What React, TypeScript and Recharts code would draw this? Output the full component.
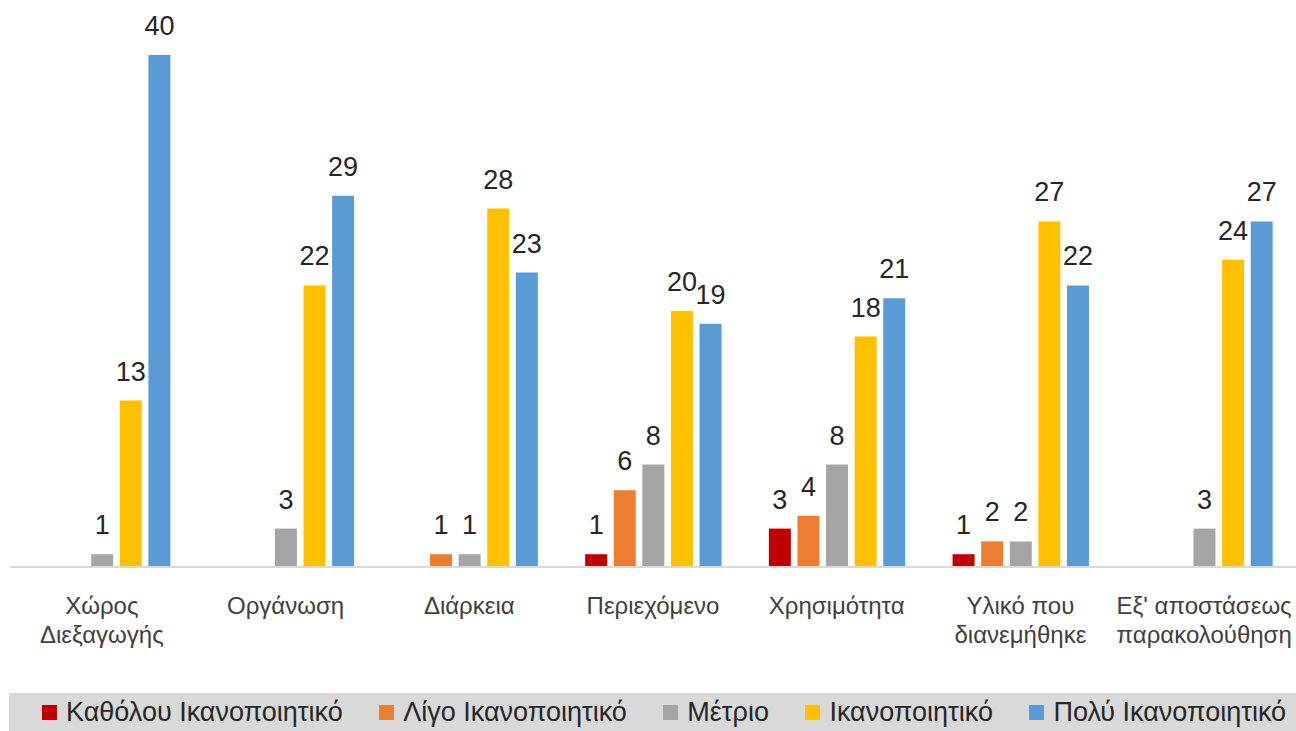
import React from "react";
import { BarChart, Bar, XAxis, YAxis, LabelList, Legend } from "recharts";

const categories = [
  "Χώρος Διεξαγωγής",
  "Οργάνωση",
  "Διάρκεια",
  "Περιεχόμενο",
  "Χρησιμότητα",
  "Υλικό που διανεμήθηκε",
  "Εξ' αποστάσεως παρακολούθηση",
];
const categoryLines = [
  ["Χώρος", "Διεξαγωγής"],
  ["Οργάνωση"],
  ["Διάρκεια"],
  ["Περιεχόμενο"],
  ["Χρησιμότητα"],
  ["Υλικό που", "διανεμήθηκε"],
  ["Εξ' αποστάσεως", "παρακολούθηση"],
];
const seriesNames = [
  "Καθόλου Ικανοποιητικό",
  "Λίγο Ικανοποιητικό",
  "Μέτριο",
  "Ικανοποιητικό",
  "Πολύ Ικανοποιητικό",
];
const katholou = [0, 0, 0, 1, 3, 1, 0];
const ligo = [0, 0, 1, 6, 4, 2, 0];
const metrio = [1, 3, 1, 8, 8, 2, 3];
const ikano = [13, 22, 28, 20, 18, 27, 24];
const poly = [40, 29, 23, 19, 21, 22, 27];
const seriesColors = ["#C00000", "#ED7D31", "#A5A5A5", "#FFC000", "#5B9BD5"];
const yDomain = [0, 40];

const seriesValues = [katholou, ligo, metrio, ikano, poly];
const data = categories.map((c, i) => {
  const row: Record<string, any> = { name: c, idx: i };
  seriesValues.forEach((vals, s) => {
    row["s" + s] = vals[i];
  });
  return row;
});

const FONT = "'Liberation Sans', Arial, sans-serif";

const CategoryTick = (props: any) => {
  const { x, y, index } = props;
  const lines = categoryLines[index] || [String(props.payload?.value ?? "")];
  return (
    <g>
      {lines.map((l: string, k: number) => (
        <text
          key={k}
          x={x}
          y={y + 47 + k * 29}
          textAnchor="middle"
          fontFamily={FONT}
          fontSize={24}
          fill="#404040"
        >
          {l}
        </text>
      ))}
    </g>
  );
};

const LegendContent = () => (
  <div
    style={{
      background: "#d9d9d9",
      height: 38,
      width: 1287,
      display: "flex",
      alignItems: "center",
      paddingLeft: 33,
      boxSizing: "border-box",
      fontFamily: FONT,
      fontSize: 27,
      color: "#262626",
      gap: 36.5,
      whiteSpace: "nowrap",
    }}
  >
    {seriesNames.map((n, i) => (
      <div key={n} style={{ display: "flex", alignItems: "center" }}>
        <span
          style={{
            display: "inline-block",
            width: 15,
            height: 15,
            background: seriesColors[i],
            marginRight: 9,
          }}
        />
        <span>{n}</span>
      </div>
    ))}
  </div>
);

export default function App() {
  return (
    <div style={{ position: "absolute", left: 0, top: 0, width: 1296, height: 731, background: "#fff" }}>
      <BarChart
        width={1296}
        height={731}
        data={data}
        margin={{ top: 55, right: 0, left: 10, bottom: 0 }}
        barSize={22}
        barGap={6.6}
      >
        <XAxis
          dataKey="name"
          axisLine={{ stroke: "#d9d9d9", strokeWidth: 2 }}
          tickLine={false}
          tickSize={0}
          tickMargin={0}
          height={126}
          interval={0}
          tick={<CategoryTick />}
        />
        <YAxis hide domain={yDomain} />
        <Legend
          verticalAlign="bottom"
          content={<LegendContent />}
          wrapperStyle={{ left: 9, width: 1287, height: 38 }}
        />
        {seriesNames.map((n, i) => (
          <Bar key={n} dataKey={"s" + i} name={n} fill={seriesColors[i]} isAnimationActive={false}>
            <LabelList
              dataKey={"s" + i}
              position="top"
              offset={20}
              formatter={(v: any) => (v ? v : "")}
              style={{ fontFamily: FONT, fontSize: 27, fill: "#262626" }}
            />
          </Bar>
        ))}
      </BarChart>
    </div>
  );
}
